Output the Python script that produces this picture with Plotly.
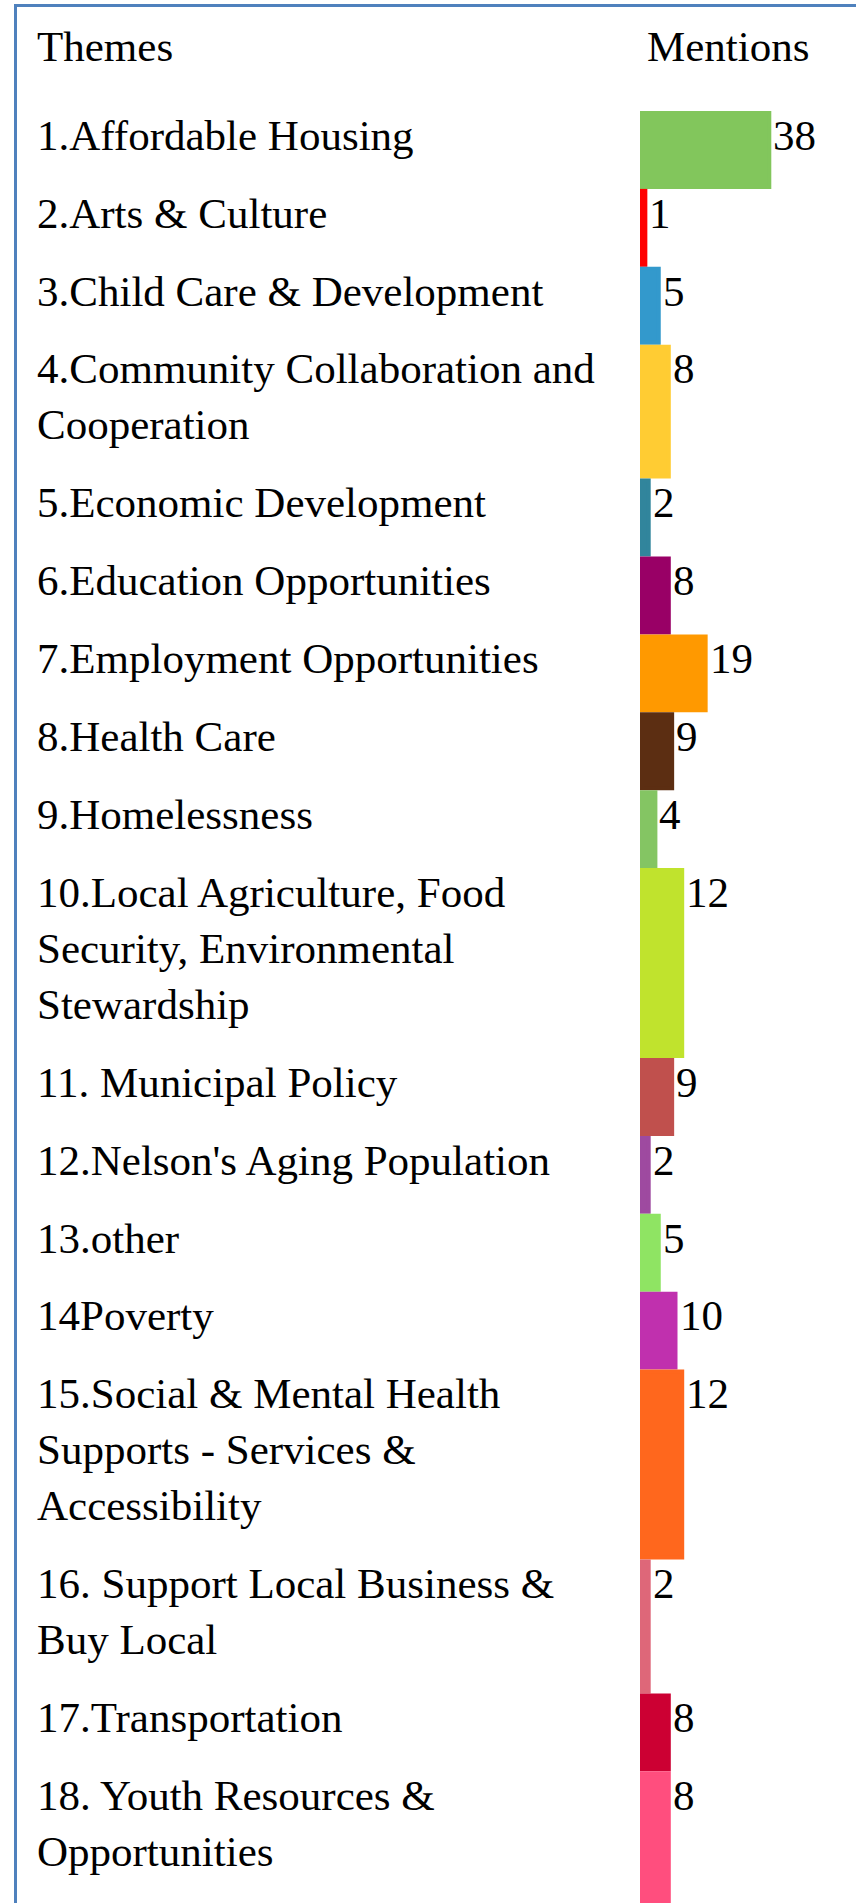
import plotly.graph_objects as go

# ---- data ----
themes = [
    "1.Affordable Housing",
    "2.Arts & Culture",
    "3.Child Care & Development",
    "4.Community Collaboration and<br>Cooperation",
    "5.Economic Development",
    "6.Education Opportunities",
    "7.Employment Opportunities",
    "8.Health Care",
    "9.Homelessness",
    "10.Local Agriculture, Food<br>Security, Environmental<br>Stewardship",
    "11. Municipal Policy",
    "12.Nelson's Aging Population",
    "13.other",
    "14Poverty",
    "15.Social & Mental Health<br>Supports - Services &<br>Accessibility",
    "16. Support Local Business &<br>Buy Local",
    "17.Transportation",
    "18. Youth Resources &<br>Opportunities",
]
mentions = [38, 1, 5, 8, 2, 8, 19, 9, 4, 12, 9, 2, 5, 10, 12, 2, 8, 8]
colors = [
    "#82C65C", "#FF0000", "#3399CC", "#FFCC33", "#31859C", "#990066",
    "#FF9900", "#5C2E12", "#84C563", "#C0E32D", "#C0504D", "#9E4AA0",
    "#8FE463", "#C030AE", "#FF671D", "#DE6779", "#CC0033", "#FF4E7E",
]
header_left = "Themes"
header_right = "Mentions"

# ---- layout geometry (pixels) ----
W, H = 856, 1903
TOP0 = 111.0
PAD = 21.9
LINE = 56.0
PX_PER_UNIT = 3.35
X0 = 642.0
LABEL_X = 36.0
FONT = dict(family="Liberation Serif", size=43, color="black")
BORDER = "#4F81BD"

heights = [PAD + LINE * (t.count("<br>") + 1) for t in themes]
tops = []
acc = TOP0
for h in heights:
    tops.append(acc)
    acc += h
centers = [t + h / 2 for t, h in zip(tops, heights)]

fig = go.Figure()
fig.add_trace(go.Bar(
    y=centers,
    x=mentions,
    orientation="h",
    width=[h - 4 for h in heights],
    marker=dict(color=colors, line=dict(color=colors, width=4)),
    hoverinfo="skip",
))

annotations = []
for theme, v, top in zip(themes, mentions, tops):
    annotations.append(dict(
        x=LABEL_X / W, xref="paper", y=top - 0.3, yref="y",
        text=theme, showarrow=False, xanchor="left", yanchor="top",
        align="left", font=FONT, borderpad=0,
    ))
    annotations.append(dict(
        x=v, xref="x", xshift=3, y=top - 0.3, yref="y",
        text=str(v), showarrow=False, xanchor="left", yanchor="top",
        align="left", font=FONT, borderpad=0,
    ))

annotations.append(dict(
    x=LABEL_X / W, xref="paper", y=21.7, yref="y", text=header_left,
    showarrow=False, xanchor="left", yanchor="top", font=FONT, borderpad=0,
))
annotations.append(dict(
    x=646 / W, xref="paper", y=21.7, yref="y", text=header_right,
    showarrow=False, xanchor="left", yanchor="top", font=FONT, borderpad=0,
))

shapes = [
    dict(type="line", xref="paper", yref="y", x0=15.5 / W, x1=15.5 / W,
         y0=4, y1=H + 10, line=dict(color=BORDER, width=3)),
    dict(type="line", xref="paper", yref="y", x0=14 / W, x1=1.02,
         y0=5.5, y1=5.5, line=dict(color=BORDER, width=3)),
]

fig.update_layout(
    width=W, height=H,
    margin=dict(l=0, r=0, t=0, b=0, pad=0),
    paper_bgcolor="white", plot_bgcolor="white",
    showlegend=False,
    xaxis=dict(visible=False, range=[-X0 / PX_PER_UNIT, (W - X0) / PX_PER_UNIT],
               fixedrange=True),
    yaxis=dict(visible=False, range=[H, 0], fixedrange=True),
    annotations=annotations,
    shapes=shapes,
    font=FONT,
)

fig.write_html(
    "out.html",
    config={"displayModeBar": False},
    post_script="document.body.style.margin='0';document.body.style.overflow='hidden';",
)
